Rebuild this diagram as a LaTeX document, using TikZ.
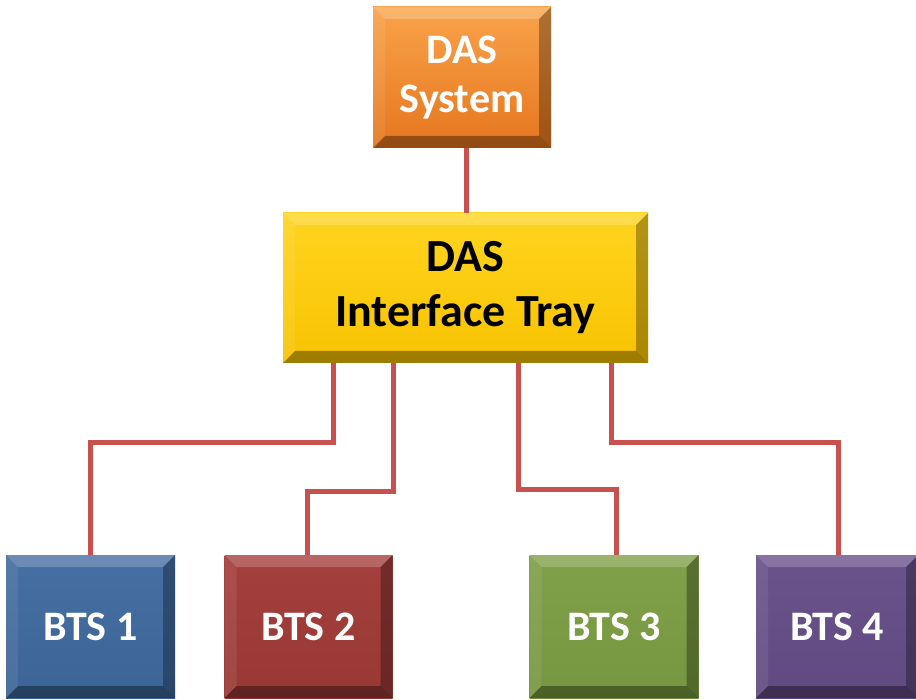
\documentclass[tikz,border=0pt]{standalone}
\usepackage{fontspec}
\setmainfont{Carlito}
\definecolor{linec}{HTML}{C8504F}
\definecolor{orT}{HTML}{F9A34A}
\definecolor{orB}{HTML}{E5761E}
\definecolor{yeT}{HTML}{FFD420}
\definecolor{yeB}{HTML}{F7C300}
\definecolor{blT}{HTML}{466FA3}
\definecolor{blB}{HTML}{3C6496}
\definecolor{reT}{HTML}{A4403D}
\definecolor{reB}{HTML}{983835}
\definecolor{grT}{HTML}{80A049}
\definecolor{grB}{HTML}{76963F}
\definecolor{puT}{HTML}{6A528B}
\definecolor{puB}{HTML}{614A80}
\newcommand\bevelit{%
  \path (path picture bounding box.north west) coordinate (NW)
        (path picture bounding box.north east) coordinate (NE)
        (path picture bounding box.south west) coordinate (SW)
        (path picture bounding box.south east) coordinate (SE);
  \fill[white,opacity=.2] (NW) -- (NE) -- ([shift={(-12pt,-12pt)}]NE) -- ([shift={(12pt,-12pt)}]NW) -- cycle;
  \fill[white,opacity=.08] (NW) -- ([shift={(12pt,-12pt)}]NW) -- ([shift={(12pt,12pt)}]SW) -- (SW) -- cycle;
  \fill[black,opacity=.30] (NE) -- (SE) -- ([shift={(-12pt,12pt)}]SE) -- ([shift={(-12pt,-12pt)}]NE) -- cycle;
  \fill[black,opacity=.36] (SW) -- ([shift={(12pt,12pt)}]SW) -- ([shift={(-12pt,12pt)}]SE) -- (SE) -- cycle;
}
\tikzset{
  box/.style={draw=none, text=white, align=center, inner sep=0pt,
    font=\bfseries\fontsize{42}{49}\selectfont, path picture={\bevelit}},
  conn/.style={draw=linec, line width=5pt},
}
\begin{document}
\begin{tikzpicture}[x=1pt,y=-1pt]
\useasboundingbox (0,0) rectangle (916,700);
\node[box, top color=orT, bottom color=orB, minimum width=178pt, minimum height=141pt] (sys) at (462,77.5) {DAS\\System};
\node[box, top color=yeT, bottom color=yeB, text=black, minimum width=365pt, minimum height=150pt,
  font=\bfseries\fontsize{46}{55}\selectfont] (tray) at (465.5,288) {DAS\\Interface Tray};
\node[box, top color=blT, bottom color=blB, minimum width=169pt, minimum height=143pt] (bts1) at (90.5,626.5) {BTS 1};
\node[box, top color=reT, bottom color=reB, minimum width=168pt, minimum height=143pt] (bts2) at (308.5,626.5) {BTS 2};
\node[box, top color=grT, bottom color=grB, minimum width=169pt, minimum height=143pt] (bts3) at (614,626.5) {BTS 3};
\node[box, top color=puT, bottom color=puB, minimum width=162pt, minimum height=143pt] (bts4) at (837,626.5) {BTS 4};
\coordinate (k0) at (466,180);
\coordinate (k1) at (90,443);
\coordinate (k2) at (307,491);
\coordinate (k3) at (616,489);
\coordinate (k4) at (838,443);
\draw[conn] (k0 |- sys.south) -- (k0 |- tray.north);
\draw[conn] ([xshift=-132pt]tray.south) |- (k1) -- (k1 |- bts1.north);
\draw[conn] ([xshift=-72pt]tray.south) |- (k2) -- (k2 |- bts2.north);
\draw[conn] ([xshift=53pt]tray.south) |- (k3) -- (k3 |- bts3.north);
\draw[conn] ([xshift=146pt]tray.south) |- (k4) -- (k4 |- bts4.north);
\end{tikzpicture}
\end{document}
